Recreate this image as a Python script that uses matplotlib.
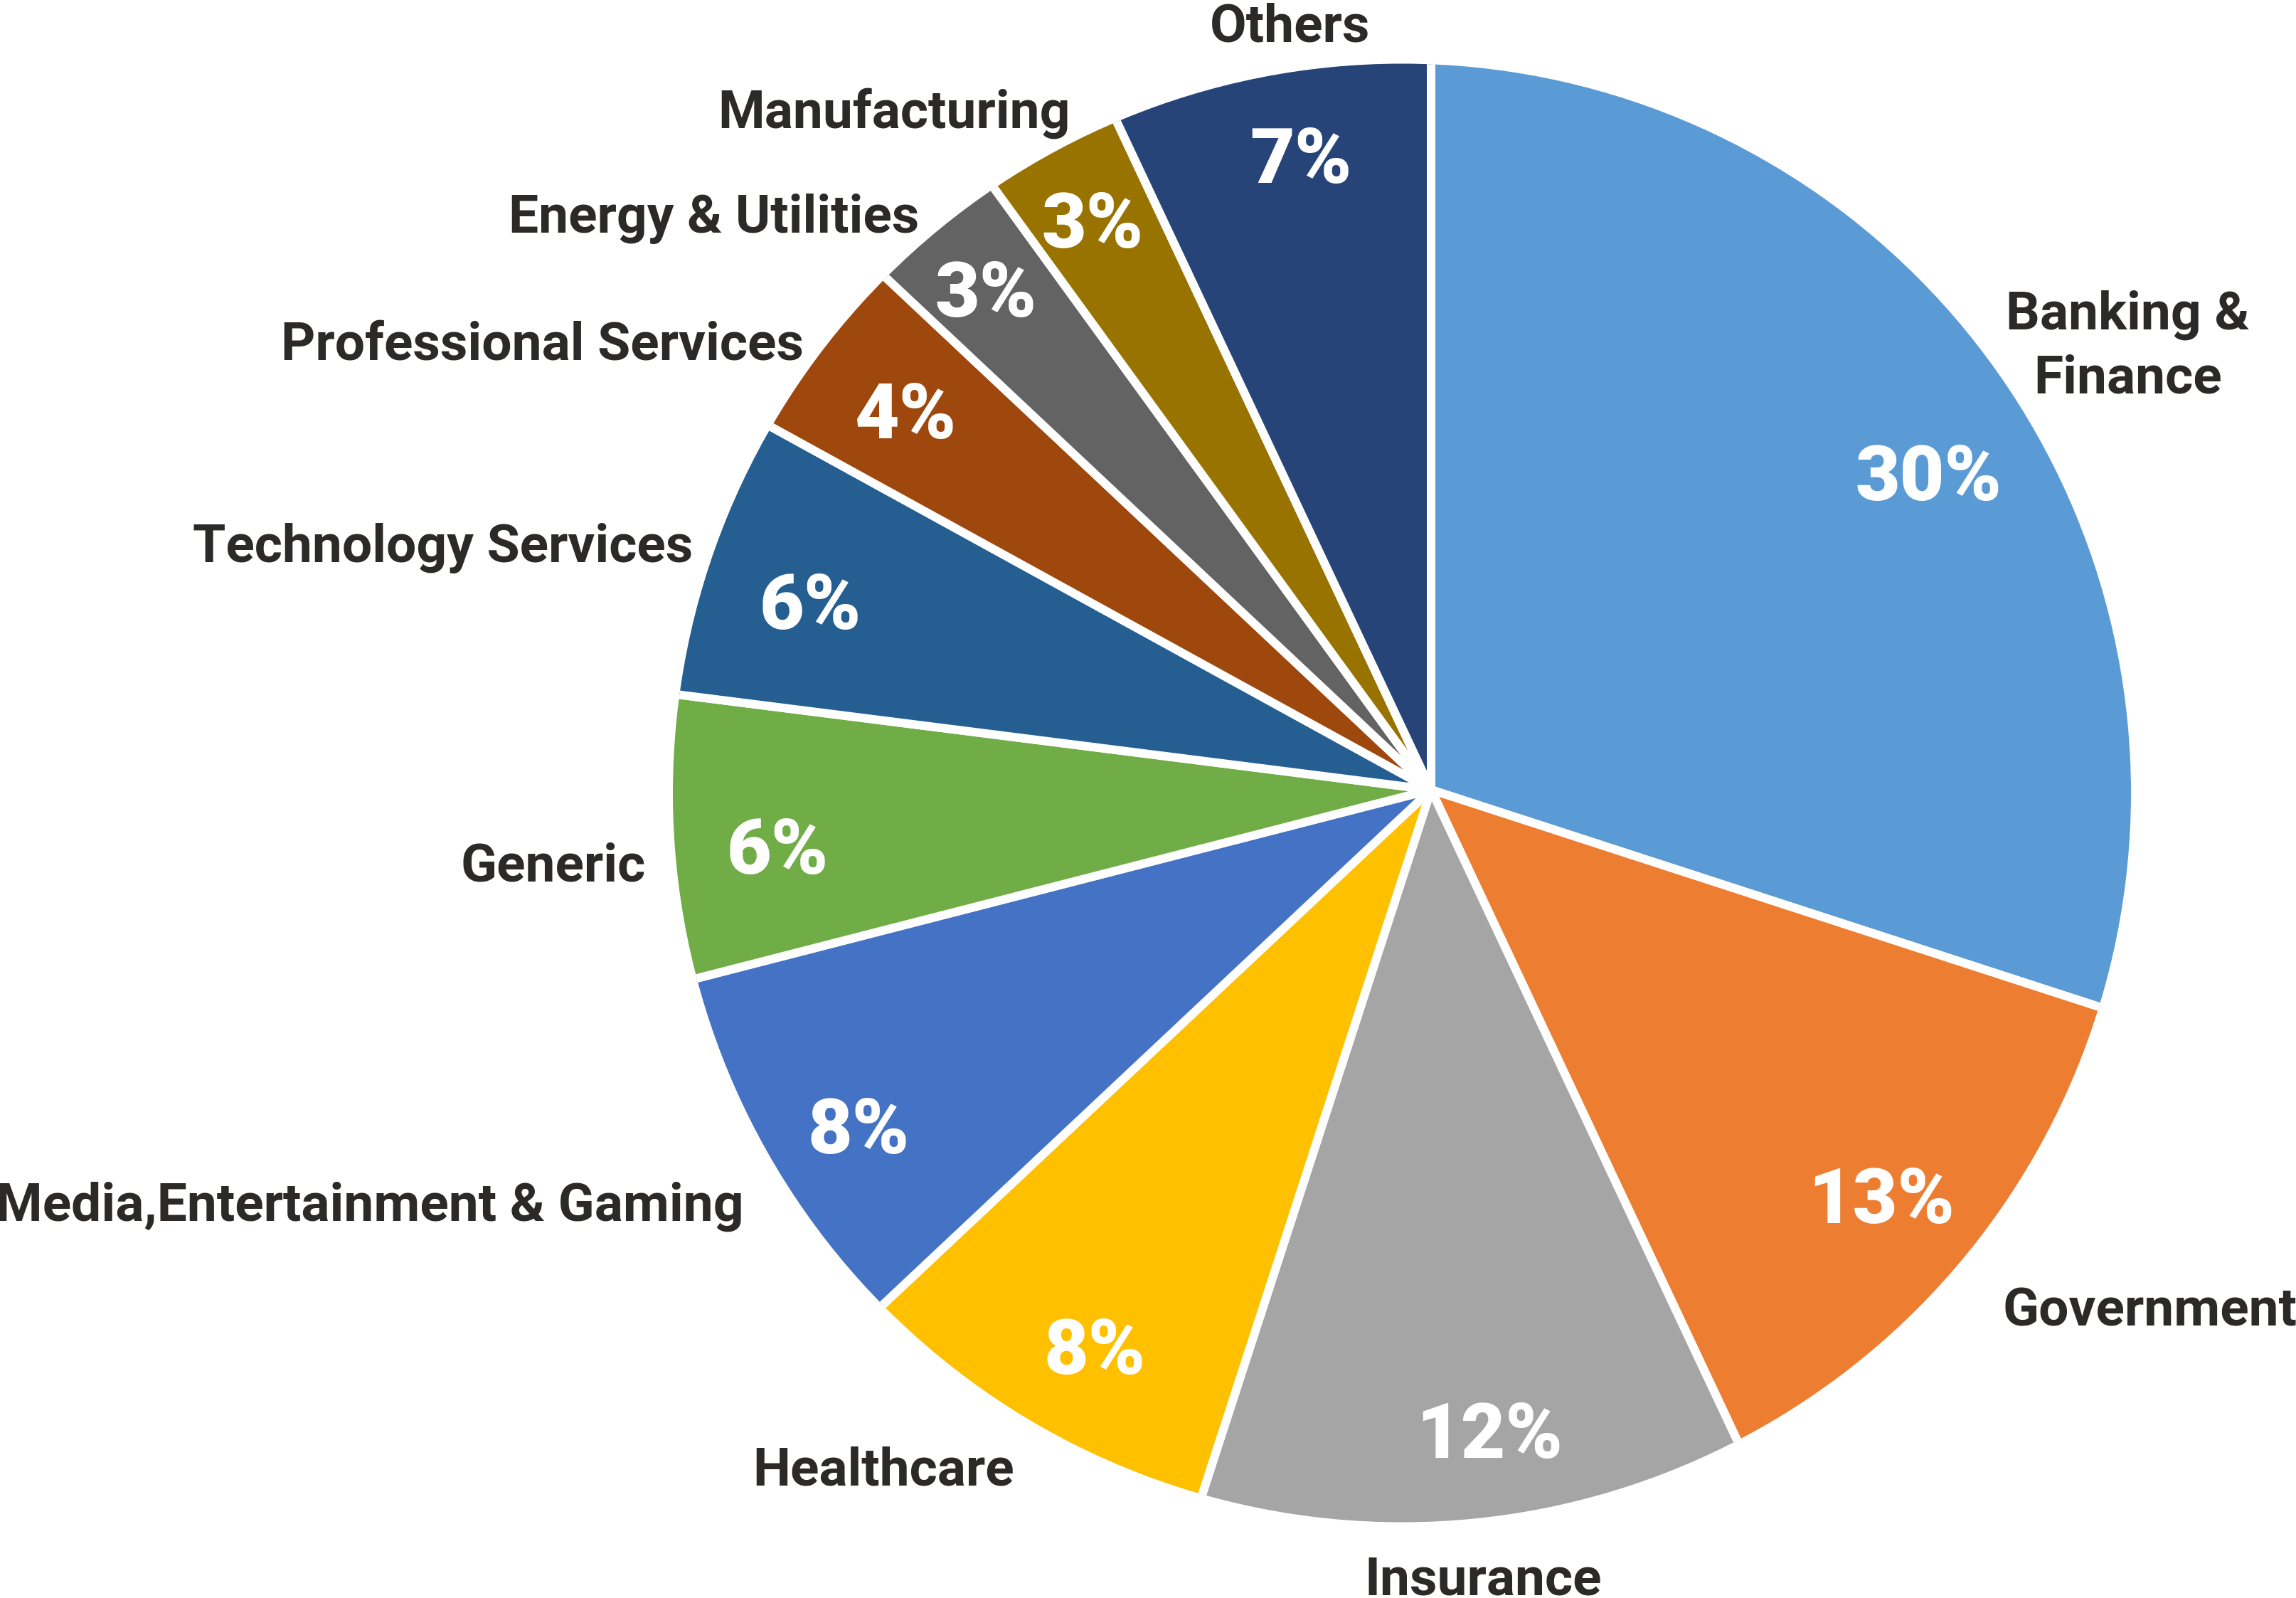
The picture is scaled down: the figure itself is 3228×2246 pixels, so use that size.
import numpy as np
import matplotlib
matplotlib.use("Agg")
import matplotlib.pyplot as plt
from matplotlib.patches import Circle

# --- data (clockwise from 12 o'clock) ---
CATEGORIES = ["Banking &\nFinance", "Government", "Insurance", "Healthcare",
              "Media,Entertainment & Gaming", "Generic", "Technology Services",
              "Professional Services", "Energy & Utilities", "Manufacturing", "Others"]
SHARES = [30, 13, 12, 8, 8, 6, 6, 4, 3, 3, 7]
COLORS = ["#5B9BD5", "#ED7D31", "#A5A5A5", "#FFC000", "#4472C4", "#70AD47",
          "#255E91", "#9E480E", "#636363", "#997300", "#264478"]

# --- label placement (radius in pie radii, small angle nudge in degrees) ---
PCT_DIST = [0.81, 0.83, 0.88, 0.89, 0.91, 0.90, 0.89, 0.89, 0.92, 0.91, 0.89]
PCT_NUDGE = [-3.4, -0.5, 1.6, 1.2, 1.5, 1.2, 1.0, 0.1, 0.2, 0.1, -1.0]
LBL_DIST = [0.995, 1.057, 1.053, 1.089, 1.099, 1.082, 1.068, 1.059, 1.057, 1.058, 1.044]
LBL_NUDGE = [1.6, -0.7, 0.3, 0.7, 2.1, 1.6, -0.5, 0.4, 0.2, -2.7, -1.9]

TEXT_COLOR = "#2B2A29"
W, H, DPI = 3228, 2246, 100
R_PX = 1025.0                 # outer radius in pixels
CX, CY = 2012.0, 1110.0       # point where the slices meet (pixels, from top-left)

fig = plt.figure(figsize=(W / DPI, H / DPI), dpi=DPI)
ax = fig.add_axes([0, 0, 1, 1])

wedges, _ = ax.pie(SHARES, colors=COLORS, startangle=90, counterclock=False,
                   radius=1.1, center=(0, 0),
                   wedgeprops=dict(edgecolor="white", linewidth=8.6,
                                   joinstyle="round"))

# the outline is a circle whose centre sits a little left of where slices meet;
# pie wedges come with clip_on=False, so switch clipping back on
outline = Circle((-41 / R_PX, -4.5 / R_PX), 1.0, transform=ax.transData)
for w in wedges:
    w.set_clip_on(True)
    w.set_clip_path(outline)

for i, w in enumerate(wedges):
    mid = 0.5 * (w.theta1 + w.theta2)

    a = np.deg2rad(mid + PCT_NUDGE[i])
    ax.text(PCT_DIST[i] * np.cos(a), PCT_DIST[i] * np.sin(a), f"{SHARES[i]}%",
            ha="center", va="center_baseline", color="white",
            fontsize=78, family="Roboto", fontweight="black")

    a = np.deg2rad(mid + LBL_NUDGE[i])
    c, s = np.cos(a), np.sin(a)
    ha = "left" if c > 0.3 else ("right" if c < -0.3 else "center")
    va = "center_baseline"
    if s > 0.95:
        va = "baseline"
    elif s < -0.95:
        va = "top"
    if "\n" in CATEGORIES[i]:
        va = "center"
    ax.text(LBL_DIST[i] * c, LBL_DIST[i] * s, CATEGORIES[i], ha=ha, va=va,
            multialignment="center", linespacing=1.36, color=TEXT_COLOR,
            fontsize=54, family="Roboto", fontweight="bold")

ax.set_xlim(-CX / R_PX, (W - CX) / R_PX)
ax.set_ylim(-(H - CY) / R_PX, CY / R_PX)
ax.set_aspect("equal")
ax.axis("off")

fig.savefig("out.png", dpi=DPI, facecolor="white")
